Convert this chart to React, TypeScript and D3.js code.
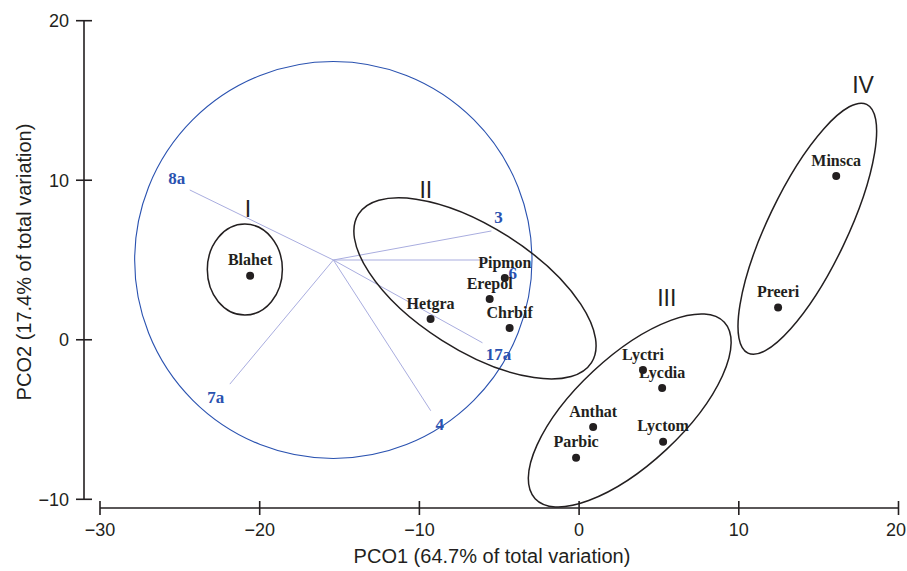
import React from "react";
import * as d3 from "d3";

// Species scores
const speciesNames = ["Blahet", "Pipmon", "Erepol", "Chrbif", "Hetgra", "Lyctri", "Lycdia", "Anthat", "Parbic", "Lyctom", "Minsca", "Preeri"];
const pco1 = [-20.6, -4.65, -5.6, -4.35, -9.3, 4.0, 5.2, 0.88, -0.19, 5.26, 16.1, 12.46];
const pco2 = [4.01, 3.87, 2.55, 0.73, 1.3, -1.9, -3.03, -5.47, -7.4, -6.4, 10.26, 2.03];

// Vector overlay (correlations)
const vectorOrigin = [-15.39, 5.0];
const vectorCircleRadius = 12.44;
const vectorNames = ["8a", "7a", "4", "17a", "6", "3"];
const vectorX = [-24.38, -21.87, -9.29, -6.05, -5.84, -5.49];
const vectorY = [9.39, -2.78, -4.45, -0.19, 5.0, 6.82];

// Group ellipses
const groupNames = ["I", "II", "III", "IV"];
const groupCx = [-20.93, -6.52, 3.17, 14.29];
const groupCy = [4.4, 3.22, -4.43, 6.96];
const groupA = [2.35, 8.65, 8.1, 8.63];
const groupB = [2.85, 3.86, 3.36, 2.49];
const groupAngle = [0, -32.5, 43, 64.5];
const groupLabelX = [-20.73, -9.6, 5.49, 17.78];
const groupLabelY = [7.71, 8.87, 2.11, 15.49];

const xTicks = [-30, -20, -10, 0, 10, 20];
const yTicks = [-10, 0, 10, 20];

// layout (px offsets for vector labels)
const vectorLabelOffset: Record<string, [number, number]> = {
  "8a": [-13, -12],
  "7a": [-14, 13],
  "4": [9, 13],
  "17a": [16, 11],
  "6": [27, 13],
  "3": [7, -14],
};

const W = 907;
const H = 571;
const INK = "#231f20";
const BLUE = "#2a52b0";
const VEC = "#a9addf";
const SANS = "'Liberation Sans', Arial, Helvetica, sans-serif";
const SERIF = "'Liberation Serif', 'Times New Roman', serif";

const fmt = (v: number) => (v < 0 ? "\u2212" + Math.abs(v) : String(v));

export default function App() {
  const x = d3.scaleLinear().domain([-30, 20]).range([100, 898.5]);
  const y = d3.scaleLinear().domain([-10, 20]).range([499.3, 20.7]);
  const kx = x(1) - x(0);
  const ky = y(0) - y(1);
  const axisX = 84;
  const axisY = 508;
  const ox = x(vectorOrigin[0]);
  const oy = y(vectorOrigin[1]);

  return (
    <svg width={W} height={H} style={{ position: "absolute", left: 0, top: 0, background: "#fff" }}>
      <rect width={W} height={H} fill="#fff" />
      {/* Y axis */}
      <line x1={axisX} x2={axisX} y1={y(20)} y2={y(-10)} stroke={INK} strokeWidth={1.6} />
      {yTicks.map((t) => (
        <g key={"yt" + t}>
          <line x1={axisX - 8} x2={axisX + 8} y1={y(t)} y2={y(t)} stroke={INK} strokeWidth={1.6} />
          <text x={69} y={y(t)} dy="0.36em" textAnchor="end" fontFamily={SANS} fontSize={18} fill={INK}>
            {fmt(t)}
          </text>
        </g>
      ))}
      {/* X axis */}
      <line x1={x(-30)} x2={x(20)} y1={axisY} y2={axisY} stroke={INK} strokeWidth={1.6} />
      {xTicks.map((t) => {
        const px = x(t);
        const atEdge = px + 11 > W;
        return (
          <g key={"xt" + t}>
            <line x1={px} x2={px} y1={axisY - 7} y2={axisY + 7} stroke={INK} strokeWidth={1.6} />
            <text
              x={atEdge ? W - 1 : px}
              y={536}
              textAnchor={atEdge ? "end" : "middle"}
              fontFamily={SANS}
              fontSize={18}
              fill={INK}
            >
              {fmt(t)}
            </text>
          </g>
        );
      })}
      <text x={492} y={563} textAnchor="middle" fontFamily={SANS} fontSize={20} fill={INK}>
        PCO1 (64.7% of total variation)
      </text>
      <text
        transform={`translate(31,${262}) rotate(-90)`}
        textAnchor="middle"
        fontFamily={SANS}
        fontSize={20}
        fill={INK}
      >
        PCO2 (17.4% of total variation)
      </text>

      {/* Vector circle */}
      <ellipse cx={ox} cy={oy} rx={vectorCircleRadius * kx} ry={vectorCircleRadius * ky} fill="none" stroke={BLUE} strokeWidth={1.1} />
      {vectorNames.map((n, i) => (
        <line key={"v" + n} x1={ox} y1={oy} x2={x(vectorX[i])} y2={y(vectorY[i])} stroke={VEC} strokeWidth={1} />
      ))}

      {/* Group ellipses */}
      {groupNames.map((g, i) => {
        const cx = x(groupCx[i]);
        const cy = y(groupCy[i]);
        return (
          <g key={"g" + g}>
            <ellipse
              cx={cx}
              cy={cy}
              rx={groupA[i] * kx}
              ry={groupB[i] * ky}
              transform={`rotate(${-groupAngle[i]} ${cx} ${cy})`}
              fill="none"
              stroke={INK}
              strokeWidth={1.5}
            />
            <text x={x(groupLabelX[i])} y={y(groupLabelY[i])} textAnchor="middle" fontFamily={SANS} fontSize={23} fontWeight={300} fill={INK}>
              {g}
            </text>
          </g>
        );
      })}

      {/* Vector labels */}
      {vectorNames.map((n, i) => {
        const [dx, dy] = vectorLabelOffset[n];
        return (
          <text
            key={"vl" + n}
            x={x(vectorX[i]) + dx}
            y={y(vectorY[i]) + dy}
            dy="0.35em"
            textAnchor="middle"
            fontFamily={SERIF}
            fontWeight="bold"
            fontSize={17}
            fill={BLUE}
          >
            {n}
          </text>
        );
      })}

      {/* Species points */}
      {speciesNames.map((s, i) => (
        <g key={"s" + s}>
          <circle cx={x(pco1[i])} cy={y(pco2[i])} r={4} fill={INK} />
          <text
            x={x(pco1[i])}
            y={y(pco2[i]) - 16}
            dy="0.35em"
            textAnchor="middle"
            fontFamily={SERIF}
            fontWeight="bold"
            fontSize={16}
            fill={INK}
          >
            {s}
          </text>
        </g>
      ))}
    </svg>
  );
}
